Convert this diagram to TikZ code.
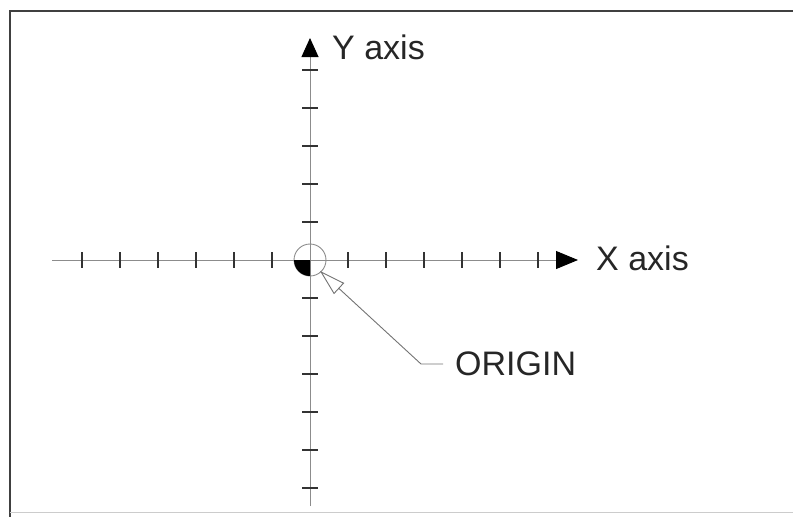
\documentclass[tikz,border=0pt]{standalone}
\usepackage{fontspec}
\setmainfont{Liberation Sans}
\usetikzlibrary{arrows.meta, positioning}

\begin{document}
\begin{tikzpicture}[x=1pt, y=-1pt,
  axisline/.style={black!45, line width=0.9pt},
  tickmark/.style={black!80, line width=2pt},
  leader/.style={black!55, line width=0.9pt},
  lbl/.style={font=\fontsize{34}{40}\selectfont, text=black!85, inner sep=0pt}]
\def\ox{310}
\def\oy{260}
\def\gap{38}
\def\rad{16}
\def\tick{8}

\useasboundingbox (0,0) rectangle (793,517);
\draw[black!75, line width=2pt] (10,517) -- (10,11) -- (793,11);
\draw[black!20, line width=1pt] (10,512) -- (793,512);

\coordinate (O) at (\ox,\oy);
\coordinate (xstart) at (52,\oy);
\coordinate (xend) at (578,\oy);
\coordinate (ystart) at (\ox,506);
\coordinate (yend) at (\ox,38);

\draw[axisline, -{Triangle[length=22pt, width=18pt, color=black]}] (xstart) -- (xend);
\draw[axisline, -{Triangle[length=19pt, width=17pt, color=black]}] (ystart) -- (yend);

\foreach \k in {1,...,6} {
  \draw[tickmark] ({\ox+\k*\gap},{\oy-\tick}) -- ++(0,2*\tick);
  \draw[tickmark] ({\ox-\k*\gap},{\oy-\tick}) -- ++(0,2*\tick);
  \draw[tickmark] ({\ox-\tick},{\oy+\k*\gap}) -- ++(2*\tick,0);
}
\foreach \k in {1,...,5} {
  \draw[tickmark] ({\ox-\tick},{\oy-\k*\gap}) -- ++(2*\tick,0);
}

\draw[axisline] (O) circle (\rad);
\fill[black] (O) -- +(-\rad,0) arc (180:90:\rad) -- cycle;

\node[lbl, anchor=west] (ylabel) at (332,47) {Y axis};
\node[lbl, anchor=west] (xlabel) at (596,258) {X axis};
\node[lbl, anchor=west] (origin) at (455,364) {ORIGIN};

\coordinate (bend) at (421,364);
\coordinate (otip) at (320,271);
\draw[leader, -{Triangle[open, length=26pt, width=15pt, fill=white]}]
  ([xshift=-12pt]origin.west) -- (bend) -- (otip);
\end{tikzpicture}
\end{document}
